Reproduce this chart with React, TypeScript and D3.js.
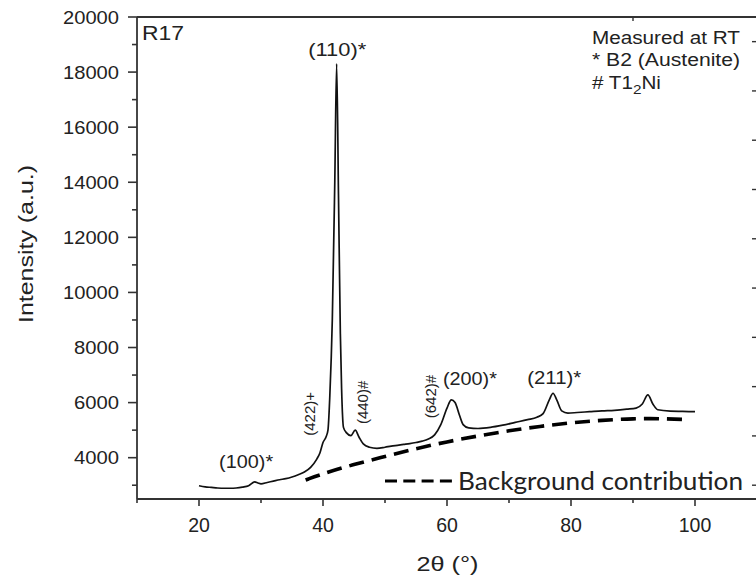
import React from "react";
import * as d3 from "d3";

// ---- data ----
const twoTheta = [20, 21, 22, 23, 24, 25, 26, 27, 28, 29, 29.5, 30, 31, 32, 33, 34, 35, 36, 37, 38, 39, 39.5, 40, 40.5, 40.8, 41.1, 41.5, 41.9, 42.2, 42.5, 42.8, 43.0, 43.3, 43.8, 44.5, 45.2, 45.8, 46.5, 47.5, 48.7, 50, 51, 52, 53, 54, 55, 56, 57, 58, 59, 60, 60.7, 61.3, 62, 62.6, 63.5, 65, 67, 69, 71, 73, 74.5, 75.5, 76.5, 77.1, 77.7, 78.5, 79.5, 81, 83, 85, 87, 89, 90.5, 91.5, 92.4, 93.2, 94, 96, 98, 100];
const intensity = [2980, 2940, 2920, 2900, 2890, 2890, 2900, 2930, 2980, 3120, 3080, 3050, 3100, 3150, 3200, 3240, 3300, 3380, 3480, 3650, 3950, 4170, 4550, 4760, 5000, 6240, 9000, 14000, 18300, 13500, 8500, 6500, 5100, 4900, 4800, 5000, 4750, 4500, 4380, 4340, 4380, 4420, 4450, 4480, 4510, 4550, 4600, 4680, 4830, 5200, 5800, 6100, 6000, 5550, 5200, 5080, 5060, 5100, 5180, 5280, 5380, 5470, 5600, 6100, 6340, 6100, 5700, 5620, 5640, 5670, 5700, 5720, 5760, 5800, 5950, 6280, 5950, 5740, 5690, 5680, 5670];

const bgTheta = [37.2, 40, 45, 50, 55, 60, 65, 70, 75, 80, 85, 90, 95, 99];
const bgIntensity = [3190, 3420, 3760, 4040, 4330, 4580, 4790, 4980, 5140, 5270, 5360, 5420, 5420, 5380];

const xTicks = [20, 40, 60, 80, 100];
const xMinorTicks = [10, 30, 50, 70, 90, 110];
const yTicks = [4000, 6000, 8000, 10000, 12000, 14000, 16000, 18000, 20000];
const yMinorTicks = [3000, 5000, 7000, 9000, 11000, 13000, 15000, 17000, 19000];
const rightTicks = [0, 1, 2, 3, 4, 5, 6, 7, 8, 9];
const topTicks = [90];

// peak labels: text, 2θ, intensity, rotated
const peakLabels = ["(110)*", "(100)*", "(200)*", "(211)*", "(422)+", "(440)#", "(642)#"];
const peakTheta = [42.3, 27.6, 63.7, 77.3, 37.9, 46.45, 57.4];
const peakIntensity = [18590, 3626, 6640, 6680, 5590, 6006, 6217];
const peakRotated = [false, false, false, false, true, true, true];

export default function App() {
  const W = 756, H = 581;
  const left = 137, right = 757, top = 17, bottom = 499;
  const x = d3.scaleLinear().domain([10, 110]).range([left, right]);
  const y = d3.scaleLinear().domain([2500, 20000]).range([bottom, top]);
  const y2 = d3.scaleLinear().domain([-0.28, 9.5]).range([bottom, top]);

  const pts = twoTheta.map((t, i) => [t, intensity[i]] as [number, number]);
  const bg = bgTheta.map((t, i) => [t, bgIntensity[i]] as [number, number]);
  const line = d3.line<[number, number]>().x(d => x(d[0])).y(d => y(d[1])).curve(d3.curveMonotoneX);
  const bgLine = d3.line<[number, number]>().x(d => x(d[0])).y(d => y(d[1])).curve(d3.curveBasis);

  const axisColor = "#333";
  const arial = "'Liberation Sans', Arial, sans-serif";

  return (
    <svg width={W} height={H} style={{ position: "absolute", left: 0, top: 0, background: "#fff" }}>
      <rect x={0} y={0} width={W} height={H} fill="#fff" />
      {/* frame */}
      <line x1={left} x2={right} y1={top} y2={top} stroke={axisColor} strokeWidth={1.8} />
      <line x1={left} x2={left} y1={top} y2={bottom} stroke={axisColor} strokeWidth={1.8} />
      <line x1={left} x2={right} y1={bottom} y2={bottom} stroke={axisColor} strokeWidth={1.8} />
      {/* x ticks */}
      {xTicks.map(t => (
        <g key={"xt" + t}>
          <line x1={x(t)} x2={x(t)} y1={bottom} y2={bottom + 7} stroke={axisColor} strokeWidth={1.6} />
          <text x={x(t)} y={532} textAnchor="middle" fontFamily={arial} fontSize={19.5} fill="#222">{t}</text>
        </g>
      ))}
      {xMinorTicks.map(t => (
        <line key={"xm" + t} x1={x(t)} x2={x(t)} y1={bottom} y2={bottom + 4} stroke={axisColor} strokeWidth={1.6} />
      ))}
      {topTicks.map(t => (
        <line key={"tt" + t} x1={x(t)} x2={x(t)} y1={top} y2={top + 4} stroke={axisColor} strokeWidth={1.4} />
      ))}
      {/* y ticks */}
      {yTicks.map(t => (
        <g key={"yt" + t}>
          <line x1={left - 9} x2={left} y1={y(t)} y2={y(t)} stroke={axisColor} strokeWidth={1.6} />
          <text x={119} y={y(t)} dy="0.35em" textAnchor="end" fontFamily={arial} fontSize={19} fill="#222"
            textLength={t >= 10000 ? 56 : 45} lengthAdjust="spacingAndGlyphs">{t}</text>
        </g>
      ))}
      {yMinorTicks.map(t => (
        <line key={"ym" + t} x1={left - 5} x2={left} y1={y(t)} y2={y(t)} stroke={axisColor} strokeWidth={1.6} />
      ))}
      {/* right-edge ticks */}
      {rightTicks.map(t => (
        <line key={"rt" + t} x1={752} x2={757} y1={y2(t)} y2={y2(t)} stroke={axisColor} strokeWidth={1.4} />
      ))}
      {/* axis titles */}
      <text transform={`translate(33,244) rotate(-90)`} textAnchor="middle" fontFamily={arial} fontSize={21} fill="#222"
        textLength={158} lengthAdjust="spacingAndGlyphs">Intensity (a.u.)</text>
      <text x={447.5} y={571} textAnchor="middle" fontFamily={arial} fontSize={20} fill="#222"
        textLength={62} lengthAdjust="spacingAndGlyphs">2θ (°)</text>
      {/* sample label */}
      <text x={142} y={40} fontFamily={arial} fontSize={21} fill="#222" textLength={42} lengthAdjust="spacingAndGlyphs">R17</text>
      {/* legend text */}
      <g fontFamily={arial} fontSize={17.5} fill="#222">
        <text x={592} y={44} textLength={148} lengthAdjust="spacingAndGlyphs">Measured at RT</text>
        <text x={592} y={66} textLength={148} lengthAdjust="spacingAndGlyphs">* B2 (Austenite)</text>
        <g transform="translate(592,89) scale(1.18,1)">
          <text x={0} y={0}># T1<tspan fontSize={13} dy={5}>2</tspan><tspan dy={-5}>Ni</tspan></text>
        </g>
      </g>
      {/* background curve */}
      <path d={bgLine(bg) || ""} fill="none" stroke="#000" strokeWidth={3.6} strokeDasharray="15 8" />
      {/* data curve */}
      <path d={line(pts) || ""} fill="none" stroke="#111" strokeWidth={1.7} strokeLinejoin="round" />
      {/* peak labels */}
      {peakLabels.map((lab, i) => peakRotated[i] ? (
        <text key={lab} transform={`translate(${x(peakTheta[i])},${y(peakIntensity[i])}) rotate(-90)`} textAnchor="middle"
          dominantBaseline="central" fontFamily={arial} fontSize={15} fill="#222">{lab}</text>
      ) : (
        <text key={lab} x={x(peakTheta[i])} y={y(peakIntensity[i])} textAnchor="middle" fontFamily={arial}
          fontSize={18.5} fill="#222" textLength={i === 0 ? 58 : 54} lengthAdjust="spacingAndGlyphs">{lab}</text>
      ))}
      {/* background legend */}
      <line x1={385} x2={452} y1={481} y2={481} stroke="#000" strokeWidth={3} strokeDasharray="12 6.3" />
      <text x={458} y={490} fontFamily="Lato, 'Open Sans', sans-serif" fontSize={25} fill="#222"
        textLength={285} lengthAdjust="spacingAndGlyphs">Background contribution</text>
    </svg>
  );
}
